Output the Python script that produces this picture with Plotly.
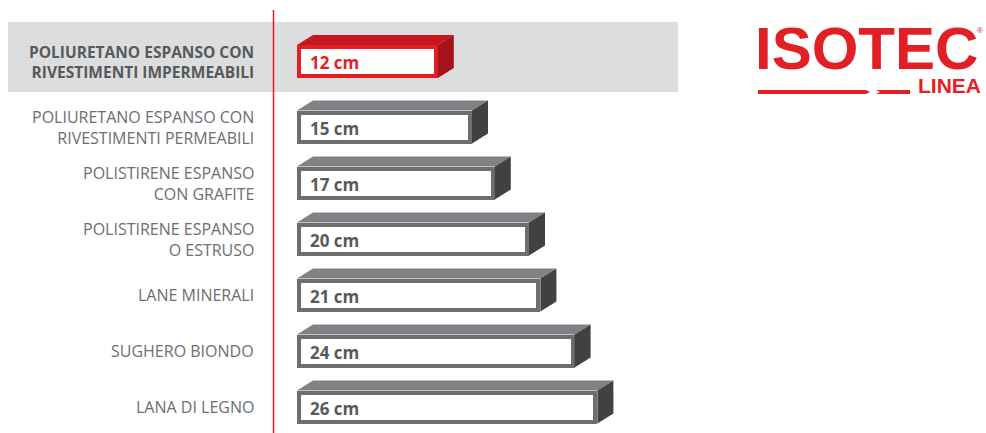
import plotly.graph_objects as go

# ---------------- data ----------------
categories = [
    "POLIURETANO ESPANSO CON<br>RIVESTIMENTI IMPERMEABILI",
    "POLIURETANO ESPANSO CON<br>RIVESTIMENTI PERMEABILI",
    "POLISTIRENE ESPANSO<br>CON GRAFITE",
    "POLISTIRENE ESPANSO<br>O ESTRUSO",
    "LANE MINERALI",
    "SUGHERO BIONDO",
    "LANA DI LEGNO",
]
values = [12, 15, 17, 20, 21, 24, 26]
unit = "cm"
highlight = 0
brand = "ISOTEC"
brand_sub = "LINEA"

# ---------------- style / geometry ----------------
W, H = 986, 433
K = 11.4           # px per cm
X0 = 299           # px of value 0
ROW = 56           # px per row
Y0 = 61.5          # px of first row centre
GAP = 0.17         # extra gap after highlighted row (rows)
FRONT_H = 29       # px (geometric, border centred)
BORDER = 4
DX, DY = 16, 10    # 3D offset px

RED = "#e31f26"
RED_TOP = "#c8161e"
RED_SIDE = "#a5131b"
GREY = "#6d6e70"
GREY_TOP = "#808184"
GREY_SIDE = "#414143"
BAND = "#dcdddf"

pos = [i + (GAP if i > 0 else 0) for i in range(len(values))]
base = 0
dx = DX / K
dy = DY / ROW
half = (FRONT_H / 2 + BORDER / 2) / ROW
bo = (BORDER / 2) / K

fig = go.Figure()

# 3D faces (top + side)
for i, (v, p) in enumerate(zip(values, pos)):
    hl = i == highlight
    xb = base - bo
    xe = v + bo
    yt = p - half
    yb = p + half
    fig.add_trace(go.Scatter(
        x=[xb, xb + dx, xe + dx, xe, xb], y=[yt, yt - dy, yt - dy, yt, yt],
        fill="toself", fillcolor=RED_TOP if hl else GREY_TOP,
        line=dict(width=0), mode="lines", hoverinfo="skip", showlegend=False))
    fig.add_trace(go.Scatter(
        x=[xe, xe + dx, xe + dx, xe, xe], y=[yt, yt - dy, yb - dy, yb, yt],
        fill="toself", fillcolor=RED_SIDE if hl else GREY_SIDE,
        line=dict(width=0), mode="lines", hoverinfo="skip", showlegend=False))

# front faces
fig.add_trace(go.Bar(
    x=values, y=pos, base=base, orientation="h",
    width=FRONT_H / ROW,
    marker=dict(color="white",
                line=dict(color=[RED if i == highlight else GREY for i in range(len(values))],
                          width=BORDER)),
    hoverinfo="skip", showlegend=False))

# value labels
for i, (v, p) in enumerate(zip(values, pos)):
    hl = i == highlight
    fig.add_annotation(
        x=base, y=p, xref="x", yref="y", text=f"<b>{v} {unit}</b>",
        xanchor="left", yanchor="middle", xshift=9, yshift=-1, showarrow=False,
        font=dict(family="Open Sans", size=17, color=RED if hl else "#58595b"))

# category labels
for i, (c, p) in enumerate(zip(categories, pos)):
    hl = i == highlight
    txt = f"<b>{c}</b>" if hl else c
    fig.add_annotation(
        x=256 / W, y=p, xref="paper", yref="y", text=txt,
        xanchor="right", yanchor="middle", align="right", showarrow=False,
        font=dict(family="Open Sans", size=15.5 if hl else 16,
                  color="#58595b" if hl else "#6d6e71"))

# highlight band + red divider
fig.add_shape(type="rect", xref="paper", yref="y",
              x0=8 / W, x1=678 / W,
              y0=pos[highlight] - (Y0 - 22) / ROW, y1=pos[highlight] + (92 - Y0) / ROW,
              fillcolor=BAND, line=dict(width=0), layer="below")
fig.add_shape(type="line", xref="paper", yref="paper",
              x0=273.5 / W, x1=273.5 / W, y0=0, y1=1 - 10 / H,
              line=dict(color=RED, width=1.5), layer="above")

# logo
fig.add_annotation(x=866 / W, y=1 - 49 / H, xref="paper", yref="paper",
                   text=f"<b>{brand}</b>", showarrow=False, xanchor="center", yanchor="middle",
                   font=dict(family="Liberation Sans", size=60, color=RED))
fig.add_annotation(x=980 / W, y=1 - 30 / H, xref="paper", yref="paper",
                   text="®", showarrow=False, xanchor="center", yanchor="middle",
                   font=dict(family="Liberation Sans", size=8, color=RED))
fig.add_annotation(x=983 / W, y=1 - 85 / H, xref="paper", yref="paper",
                   text=f"<b>{brand_sub}</b>", showarrow=False, xanchor="right", yanchor="middle",
                   font=dict(family="Liberation Sans", size=21, color=RED))
fig.add_shape(type="path", xref="paper", yref="paper",
              path=(f"M {758/W} {1-90/H} L {866/W} {1-90/H} L {870/W} {1-92/H} "
                    f"L {866/W} {1-94/H} L {758/W} {1-94/H} Z"),
              fillcolor=RED, line=dict(width=0))
fig.add_shape(type="path", xref="paper", yref="paper",
              path=(f"M {876/W} {1-90/H} L {910/W} {1-90/H} L {910/W} {1-94/H} "
                    f"L {876/W} {1-94/H} L {880/W} {1-92/H} Z"),
              fillcolor=RED, line=dict(width=0))

fig.update_layout(
    width=W, height=H, margin=dict(l=0, r=0, t=0, b=0),
    paper_bgcolor="white", plot_bgcolor="rgba(0,0,0,0)",
    xaxis=dict(range=[(0 - X0) / K, (W - X0) / K], visible=False, fixedrange=True),
    yaxis=dict(range=[(H - Y0) / ROW, (0 - Y0) / ROW], visible=False, fixedrange=True),
    bargap=0,
)

fig.write_html("out.html", config={"displayModeBar": False},
               post_script="document.body.style.margin='0';document.body.style.overflow='hidden';")
